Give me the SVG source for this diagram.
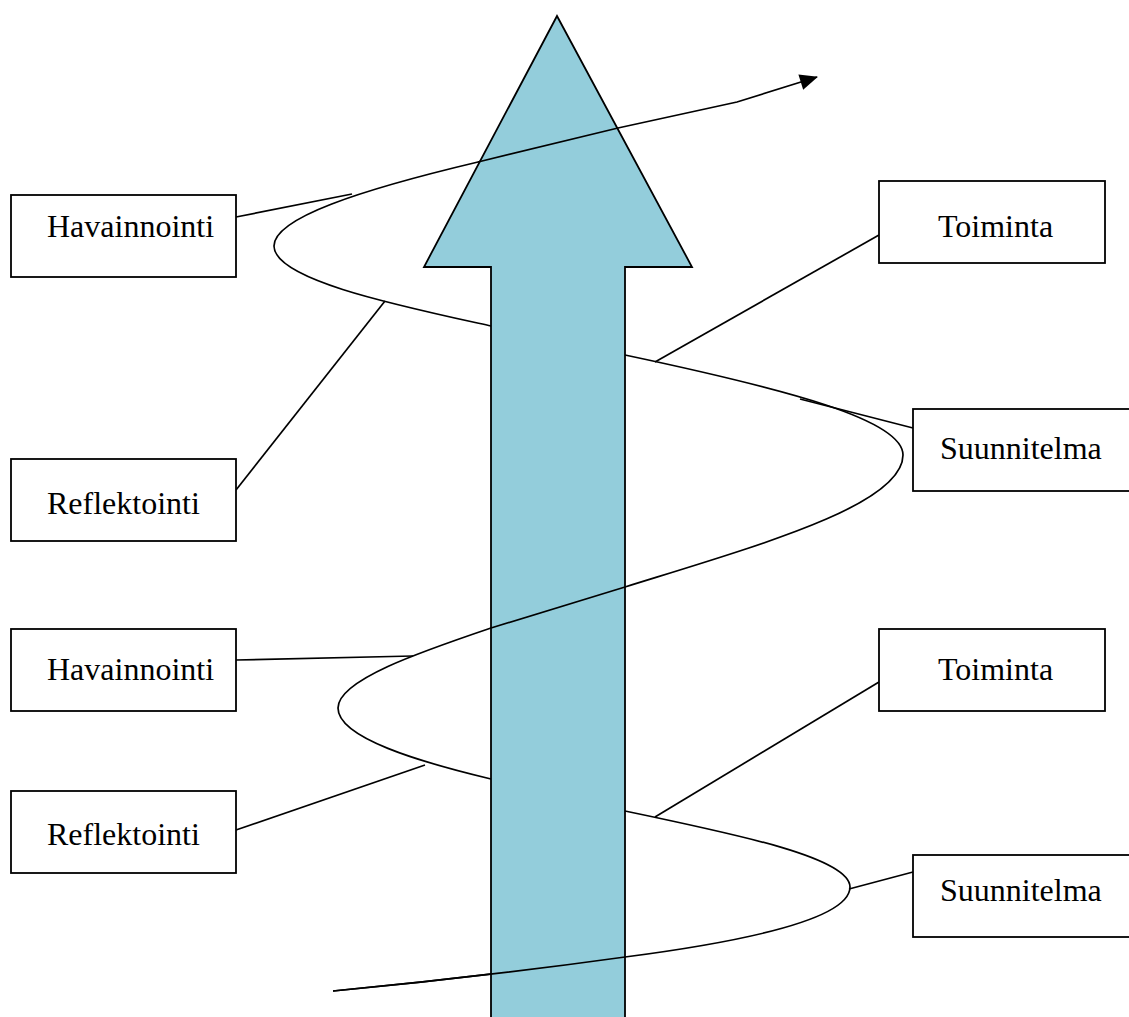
<svg xmlns="http://www.w3.org/2000/svg" width="1129" height="1017" viewBox="0 0 1129 1017">
  <style>
    .box { fill: #ffffff; stroke: #000000; stroke-width: 1.8; }
    .lbl { font-family: "Liberation Serif", "Times New Roman", serif; font-size: 32px; fill: #000000; }
    .ln { fill: none; stroke: #000000; stroke-width: 1.7; stroke-linecap: butt; }
    .big { fill: #93CDDB; stroke: #000000; stroke-width: 1.8; stroke-linejoin: miter; }
  </style>
  <defs>
    <marker id="ah" viewBox="0 0 10 10" refX="9" refY="5" markerWidth="10" markerHeight="10" markerUnits="userSpaceOnUse" orient="auto" overflow="visible">
      <path d="M -8 -3 L 10 5 L -8 13 Z" fill="#000000"/>
    </marker>
  </defs>
  <rect x="0" y="0" width="1129" height="1017" fill="#ffffff"/>

  <g id="connectors">
    <path id="spiral" class="ln" d="M 333 991 C 450 980 560 966 625 957 C 740 942 850 920 850 887 C 850 858 740 835 625 811 L 491 779 C 420 762 338 738 338 708 C 338 680 420 652 491 628 L 625 587 C 760 545 903 505 903 455 C 903 420 790 390 625 355 L 491 326 C 400 306 274 280 274 246 C 274 218 360 190 478 162 L 618 128 L 737 102 L 817 77" marker-end="url(#ah)"/>
    <line class="ln" x1="236" y1="217" x2="352" y2="194"/>
    <line class="ln" x1="236" y1="490" x2="385" y2="301"/>
    <line class="ln" x1="236" y1="660" x2="413" y2="656"/>
    <line class="ln" x1="236" y1="830" x2="425" y2="765"/>
    <line class="ln" x1="879" y1="235" x2="655" y2="362"/>
    <line class="ln" x1="913" y1="428" x2="800" y2="399"/>
    <line class="ln" x1="879" y1="682" x2="655" y2="817"/>
    <line class="ln" x1="913" y1="872" x2="849" y2="889"/>
  </g>

  <g id="big-arrow">
    <path class="big" d="M 557 16 L 692 267 L 625 267 L 625 1030 L 491 1030 L 491 267 L 424 267 Z"/>
  </g>

  <g id="spiral-front">
    <path class="ln" d="M 478 162 L 618 128"/>
    <path class="ln" d="M 491 628 L 625 587"/>
    <path class="ln" d="M 333 991 C 450 980 560 966 625 957"/>
  </g>

  <g id="havainnointi-1">
    <rect class="box" x="11" y="195" width="225" height="82"/>
    <text class="lbl" x="47" y="237">Havainnointi</text>
  </g>
  <g id="reflektointi-1">
    <rect class="box" x="11" y="459" width="225" height="82"/>
    <text class="lbl" x="47" y="514">Reflektointi</text>
  </g>
  <g id="havainnointi-2">
    <rect class="box" x="11" y="629" width="225" height="82"/>
    <text class="lbl" x="47" y="680">Havainnointi</text>
  </g>
  <g id="reflektointi-2">
    <rect class="box" x="11" y="791" width="225" height="82"/>
    <text class="lbl" x="47" y="845">Reflektointi</text>
  </g>
  <g id="toiminta-1">
    <rect class="box" x="879" y="181" width="226" height="82"/>
    <text class="lbl" x="938" y="237">Toiminta</text>
  </g>
  <g id="suunnitelma-1">
    <rect class="box" x="913" y="409" width="230" height="82"/>
    <text class="lbl" x="940" y="459">Suunnitelma</text>
  </g>
  <g id="toiminta-2">
    <rect class="box" x="879" y="629" width="226" height="82"/>
    <text class="lbl" x="938" y="680">Toiminta</text>
  </g>
  <g id="suunnitelma-2">
    <rect class="box" x="913" y="855" width="230" height="82"/>
    <text class="lbl" x="940" y="901">Suunnitelma</text>
  </g>
</svg>
